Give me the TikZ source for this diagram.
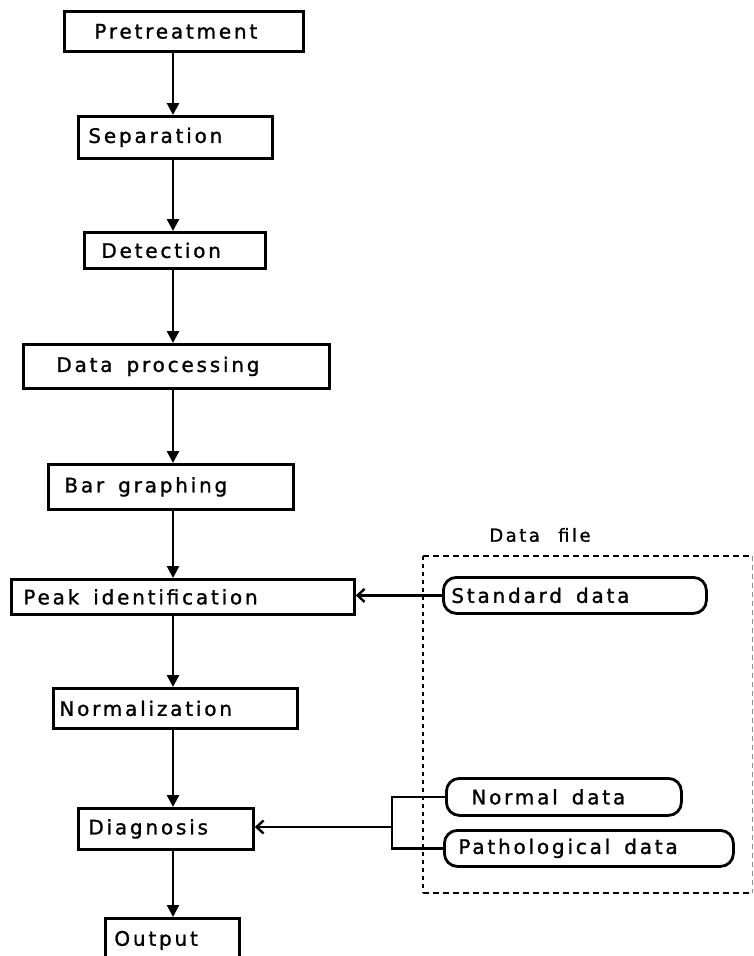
\documentclass[tikz,border=0pt]{standalone}
\usepackage{fontspec}
\newfontfamily\plotfont{DejaVu Sans}[LetterSpace=14,FakeBold=1.2]
\usetikzlibrary{arrows.meta}
\newcommand{\ws}{\hspace{14pt}}
\tikzset{
  stage/.style={draw, line width=2.8pt, anchor=north west, inner ysep=0pt, align=left,
    font=\plotfont\fontsize{20}{22}\selectfont},
  datum/.style={stage, rounded corners=13pt},
  varr/.style={line width=2.6pt, -{Triangle[length=12pt,width=12pt]}},
  harr/.style={line width=2.6pt, -{Straight Barb[length=7pt,width=13pt,line width=2.4pt]}},
  link/.style={line width=2.6pt},
  dfile/.style={line width=2.6pt, dash pattern=on 6pt off 4pt},
  dfileside/.style={line width=2.6pt, dash pattern=on 4pt off 4pt},
  dfileright/.style={line width=0.8pt, black!45, dash pattern=on 5pt off 4pt}
}
% box: [style] name, x, y, width, height, left offset, text
\newcommand{\stagebox}[8][stage]{%
  \node[#1, minimum width=#5pt, minimum height=#6pt, text width={#5pt-2*#7pt}, inner xsep=#7pt] (#2) at (#3,#4) {#8};}
\begin{document}
\begin{tikzpicture}[x=1pt,y=-1pt]
\useasboundingbox (0,0) rectangle (754,956);
\clip (0,0) rectangle (754,956);
\coordinate (spine) at (173,0);

\stagebox{pre}{63}{10}{239}{40}{30}{Pretreatment}
\stagebox{sep}{77}{115}{194}{42}{10}{Separation}
\stagebox{det}{83}{231}{181}{36}{17}{Detection}
\stagebox{dp}{22}{343}{306}{44}{33}{Data\ws processing}
\stagebox{bar}{47}{463}{245}{45}{16}{Bar\ws graphing}
\stagebox{peak}{10}{578}{343}{35}{12}{Peak\ws identification}
\stagebox{norm}{52}{687}{244}{40}{6}{Normalization}
\stagebox{diag}{77}{807}{175}{41}{10}{Diagnosis}
\stagebox{out}{104}{917}{134}{44}{9}{Output}

\draw[varr] (pre.south -| spine) -- (sep.north -| spine);
\draw[varr] (sep.south -| spine) -- (det.north -| spine);
\draw[varr] (det.south -| spine) -- (dp.north -| spine);
\draw[varr] (dp.south -| spine) -- (bar.north -| spine);
\draw[varr] (bar.south -| spine) -- (peak.north -| spine);
\draw[varr] (peak.south -| spine) -- (norm.north -| spine);
\draw[varr] (norm.south -| spine) -- (diag.north -| spine);
\draw[varr] (diag.south -| spine) -- (out.north -| spine);

% data file
\node[font=\plotfont\fontsize{18}{20}\selectfont, inner sep=0pt] (dflabel) at (540,535) {Data\hspace{10pt} file};
\coordinate (dfTL) at (423,556);
\coordinate (dfTR) at (752,556);
\coordinate (dfBL) at (423,893);
\coordinate (dfBR) at (752,893);
\draw[dfile] (dfTL) -- (dfTR);
\draw[dfile] (dfBL) -- (dfBR);
\draw[dfileside] (dfTL) -- (dfBL);
\draw[dfileright] (dfTR) -- (dfBR);

\stagebox[datum]{std}{442}{576}{263}{36}{8}{Standard\ws data}
\stagebox[datum]{nrm}{445}{777}{235}{37}{25}{Normal\ws data}
\stagebox[datum]{pat}{443}{829}{289}{36}{14}{Pathological\ws data}

\draw[harr] (std.west) -- (std.west -| peak.east);
\coordinate (brx) at (392,827);
\draw[link] (nrm.west) -| (brx) |- (pat.west);
\draw[harr] (brx) -- (brx -| diag.east);
\end{tikzpicture}
\end{document}
